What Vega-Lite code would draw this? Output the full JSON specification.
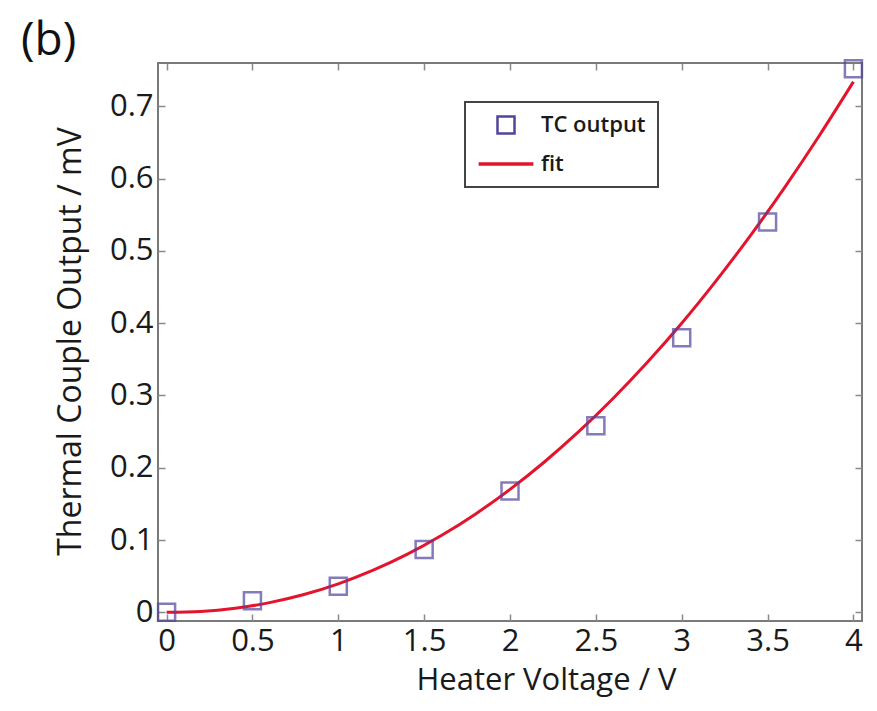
{
  "$schema": "https://vega.github.io/schema/vega-lite/v6.json",
  "width": 704,
  "height": 558,
  "autosize": {"type": "none"},
  "padding": {"left": 158, "top": 63, "right": 15, "bottom": 90},
  "background": "white",
  "config": {
    "view": {"stroke": "#7a7a7a", "strokeWidth": 2},
    "font": "Open Sans",
    "legend": {
      "title": null,
      "orient": "none",
      "legendX": 307,
      "legendY": 39,
      "labelFontSize": 22,
      "labelFontWeight": 600,
      "labelColor": "#1a1a1a",
      "strokeColor": "#444444",
      "strokeWidth": 2,
      "fillColor": "white",
      "padding": 12,
      "rowPadding": 14,
      "symbolStrokeWidth": 2.5,
      "symbolSize": 290,
      "symbolOffset": 18,
      "symbolFillColor": "transparent",
      "labelOffset": 24
    }
  },
  "title": {
    "text": "(b)",
    "anchor": "start",
    "frame": "group",
    "dx": -137,
    "dy": 14,
    "offset": 4,
    "fontSize": 46,
    "fontWeight": "normal",
    "color": "#111111"
  },
  "datasets": {
    "pts": [
      {"x": 0, "y": 0, "series": "TC output"},
      {"x": 0.5, "y": 0.016, "series": "TC output"},
      {"x": 1, "y": 0.036, "series": "TC output"},
      {"x": 1.5, "y": 0.087, "series": "TC output"},
      {"x": 2, "y": 0.168, "series": "TC output"},
      {"x": 2.5, "y": 0.258, "series": "TC output"},
      {"x": 3, "y": 0.38, "series": "TC output"},
      {"x": 3.5, "y": 0.54, "series": "TC output"},
      {"x": 4, "y": 0.752, "series": "TC output"}
    ],
    "fit": [
      {"x": 0, "y": 0, "series": "fit"},
      {"x": 0.2, "y": 0.0013, "series": "fit"},
      {"x": 0.4, "y": 0.0057, "series": "fit"},
      {"x": 0.6, "y": 0.0134, "series": "fit"},
      {"x": 0.8, "y": 0.0246, "series": "fit"},
      {"x": 1.0, "y": 0.0394, "series": "fit"},
      {"x": 1.2, "y": 0.0579, "series": "fit"},
      {"x": 1.4, "y": 0.0801, "series": "fit"},
      {"x": 1.6, "y": 0.1062, "series": "fit"},
      {"x": 1.8, "y": 0.1362, "series": "fit"},
      {"x": 2.0, "y": 0.1701, "series": "fit"},
      {"x": 2.2, "y": 0.208, "series": "fit"},
      {"x": 2.4, "y": 0.2499, "series": "fit"},
      {"x": 2.6, "y": 0.2959, "series": "fit"},
      {"x": 2.8, "y": 0.346, "series": "fit"},
      {"x": 3.0, "y": 0.4, "series": "fit"},
      {"x": 3.2, "y": 0.4586, "series": "fit"},
      {"x": 3.4, "y": 0.5212, "series": "fit"},
      {"x": 3.6, "y": 0.588, "series": "fit"},
      {"x": 3.8, "y": 0.659, "series": "fit"},
      {"x": 4.0, "y": 0.734, "series": "fit"}
    ]
  },
  "layer": [
    {
      "data": {"name": "fit"},
      "mark": {"type": "line", "strokeWidth": 3, "interpolate": "monotone"},
      "encoding": {
        "x": {
          "field": "x",
          "type": "quantitative",
          "scale": {"domain": [-0.05, 4.05], "nice": false, "zero": false},
          "axis": {
            "orient": "bottom",
            "values": [0, 0.5, 1, 1.5, 2, 2.5, 3, 3.5, 4],
            "format": "~g",
            "grid": false,
            "domain": false,
            "tickSize": -7,
            "tickColor": "#8a8a8a",
            "tickWidth": 1.5,
            "labelFontSize": 31,
            "labelColor": "#1a1a1a",
            "labelPadding": 12,
            "labelFlush": false,
            "title": "Heater Voltage / V",
            "titleFontSize": 31,
            "titleFontWeight": "normal",
            "titleColor": "#1a1a1a",
            "titleX": 388,
            "titleY": 59,
            "titleBaseline": "middle",
            "titleAlign": "center"
          }
        },
        "y": {
          "field": "y",
          "type": "quantitative",
          "scale": {"domain": [-0.012, 0.76], "nice": false, "zero": false},
          "axis": {
            "orient": "left",
            "values": [0, 0.1, 0.2, 0.3, 0.4, 0.5, 0.6, 0.7],
            "format": "~g",
            "grid": false,
            "domain": false,
            "tickSize": -7,
            "tickColor": "#8a8a8a",
            "tickWidth": 1.5,
            "labelFontSize": 31,
            "labelColor": "#1a1a1a",
            "labelPadding": 12,
            "labelFlush": false,
            "title": "Thermal Couple Output / mV",
            "titleFontSize": 32,
            "titleFontWeight": "normal",
            "titleColor": "#1a1a1a",
            "titleAngle": -90,
            "titleX": -88,
            "titleY": 278,
            "titleBaseline": "middle",
            "titleAlign": "center"
          }
        },
        "color": {
          "field": "series",
          "type": "nominal",
          "scale": {"domain": ["TC output", "fit"], "range": ["#54449c", "#e3142c"]},
          "legend": {
            "encode": {
              "symbols": {
                "update": {
                  "size": {"signal": "datum.value === 'fit' ? 3000 : 290"},
                  "strokeWidth": {"signal": "datum.value === 'fit' ? 3.5 : 2.5"}
                }
              }
            }
          }
        }
      }
    },
    {
      "data": {"name": "pts"},
      "mark": {"type": "point", "filled": false, "size": 290, "strokeWidth": 2.5},
      "encoding": {
        "x": {
          "field": "x",
          "type": "quantitative",
          "scale": {"domain": [-0.05, 4.05], "nice": false, "zero": false},
          "axis": {
            "orient": "top",
            "values": [0, 0.5, 1, 1.5, 2, 2.5, 3, 3.5, 4],
            "labels": false,
            "grid": false,
            "domain": false,
            "tickSize": -7,
            "tickColor": "#8a8a8a",
            "tickWidth": 1.5,
            "title": null
          }
        },
        "y": {
          "field": "y",
          "type": "quantitative",
          "scale": {"domain": [-0.012, 0.76], "nice": false, "zero": false},
          "axis": {
            "orient": "right",
            "values": [0, 0.1, 0.2, 0.3, 0.4, 0.5, 0.6, 0.7],
            "labels": false,
            "grid": false,
            "domain": false,
            "tickSize": -7,
            "tickColor": "#8a8a8a",
            "tickWidth": 1.5,
            "title": null
          }
        },
        "color": {
          "field": "series",
          "type": "nominal",
          "scale": {"domain": ["TC output", "fit"], "range": ["#54449c", "#e3142c"]},
          "legend": {
            "encode": {
              "symbols": {
                "update": {
                  "size": {"signal": "datum.value === 'fit' ? 3000 : 290"},
                  "strokeWidth": {"signal": "datum.value === 'fit' ? 3.5 : 2.5"}
                }
              }
            }
          }
        },
        "shape": {
          "field": "series",
          "type": "nominal",
          "scale": {"domain": ["TC output", "fit"], "range": ["square", "stroke"]},
          "legend": {
            "encode": {
              "symbols": {
                "update": {
                  "size": {"signal": "datum.value === 'fit' ? 3000 : 290"},
                  "strokeWidth": {"signal": "datum.value === 'fit' ? 3.5 : 2.5"}
                }
              }
            }
          }
        }
      }
    }
  ],
  "resolve": {"axis": {"x": "independent", "y": "independent"}}
}
